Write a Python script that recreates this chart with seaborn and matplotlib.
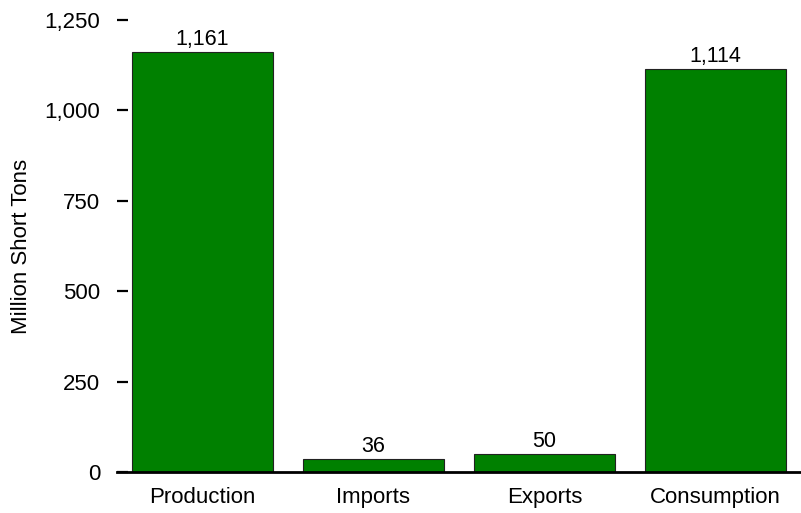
import matplotlib
matplotlib.use("Agg")
import matplotlib.pyplot as plt
import seaborn as sns
import pandas as pd

categories = ["Production", "Imports", "Exports", "Consumption"]
values = [1161, 36, 50, 1114]
y_ticks = [0, 250, 500, 750, 1000, 1250]

df = pd.DataFrame({"category": categories, "value": values})

sns.set_style("white")
plt.rcParams["font.family"] = ["Liberation Sans", "DejaVu Sans"]
plt.rcParams["text.color"] = "black"
plt.rcParams["axes.labelcolor"] = "black"

fig = plt.figure(figsize=(8.01, 5.13), dpi=100)
ax = fig.add_axes([117 / 801, 1 - 472 / 513, 684 / 801, 452 / 513])

sns.barplot(data=df, x="category", y="value", color="#008000", saturation=1,
            width=0.83, edgecolor="#222222", linewidth=0.8, ax=ax)

ax.set_xlim(-0.5, 3.5)
ax.set_ylim(0, 1250)
ax.set_yticks(y_ticks)
ax.set_yticklabels([f"{t:,}" for t in y_ticks])
ax.set_xlabel("")
ax.set_ylabel("Million Short Tons", fontsize=16, labelpad=9)

for i, v in enumerate(values):
    ax.text(i, v + 5, f"{v:,}", ha="center", va="bottom", fontsize=15.5, color="black")

for s in ["top", "right", "left"]:
    ax.spines[s].set_visible(False)
ax.spines["bottom"].set_linewidth(2)
ax.spines["bottom"].set_color("black")

ax.tick_params(axis="y", direction="in", length=8, width=1.6, pad=12,
               labelsize=16, labelcolor="black", color="black", left=True)
ax.tick_params(axis="x", length=0, pad=11, labelsize=16, labelcolor="black")

fig.savefig("out.png", dpi=100)
